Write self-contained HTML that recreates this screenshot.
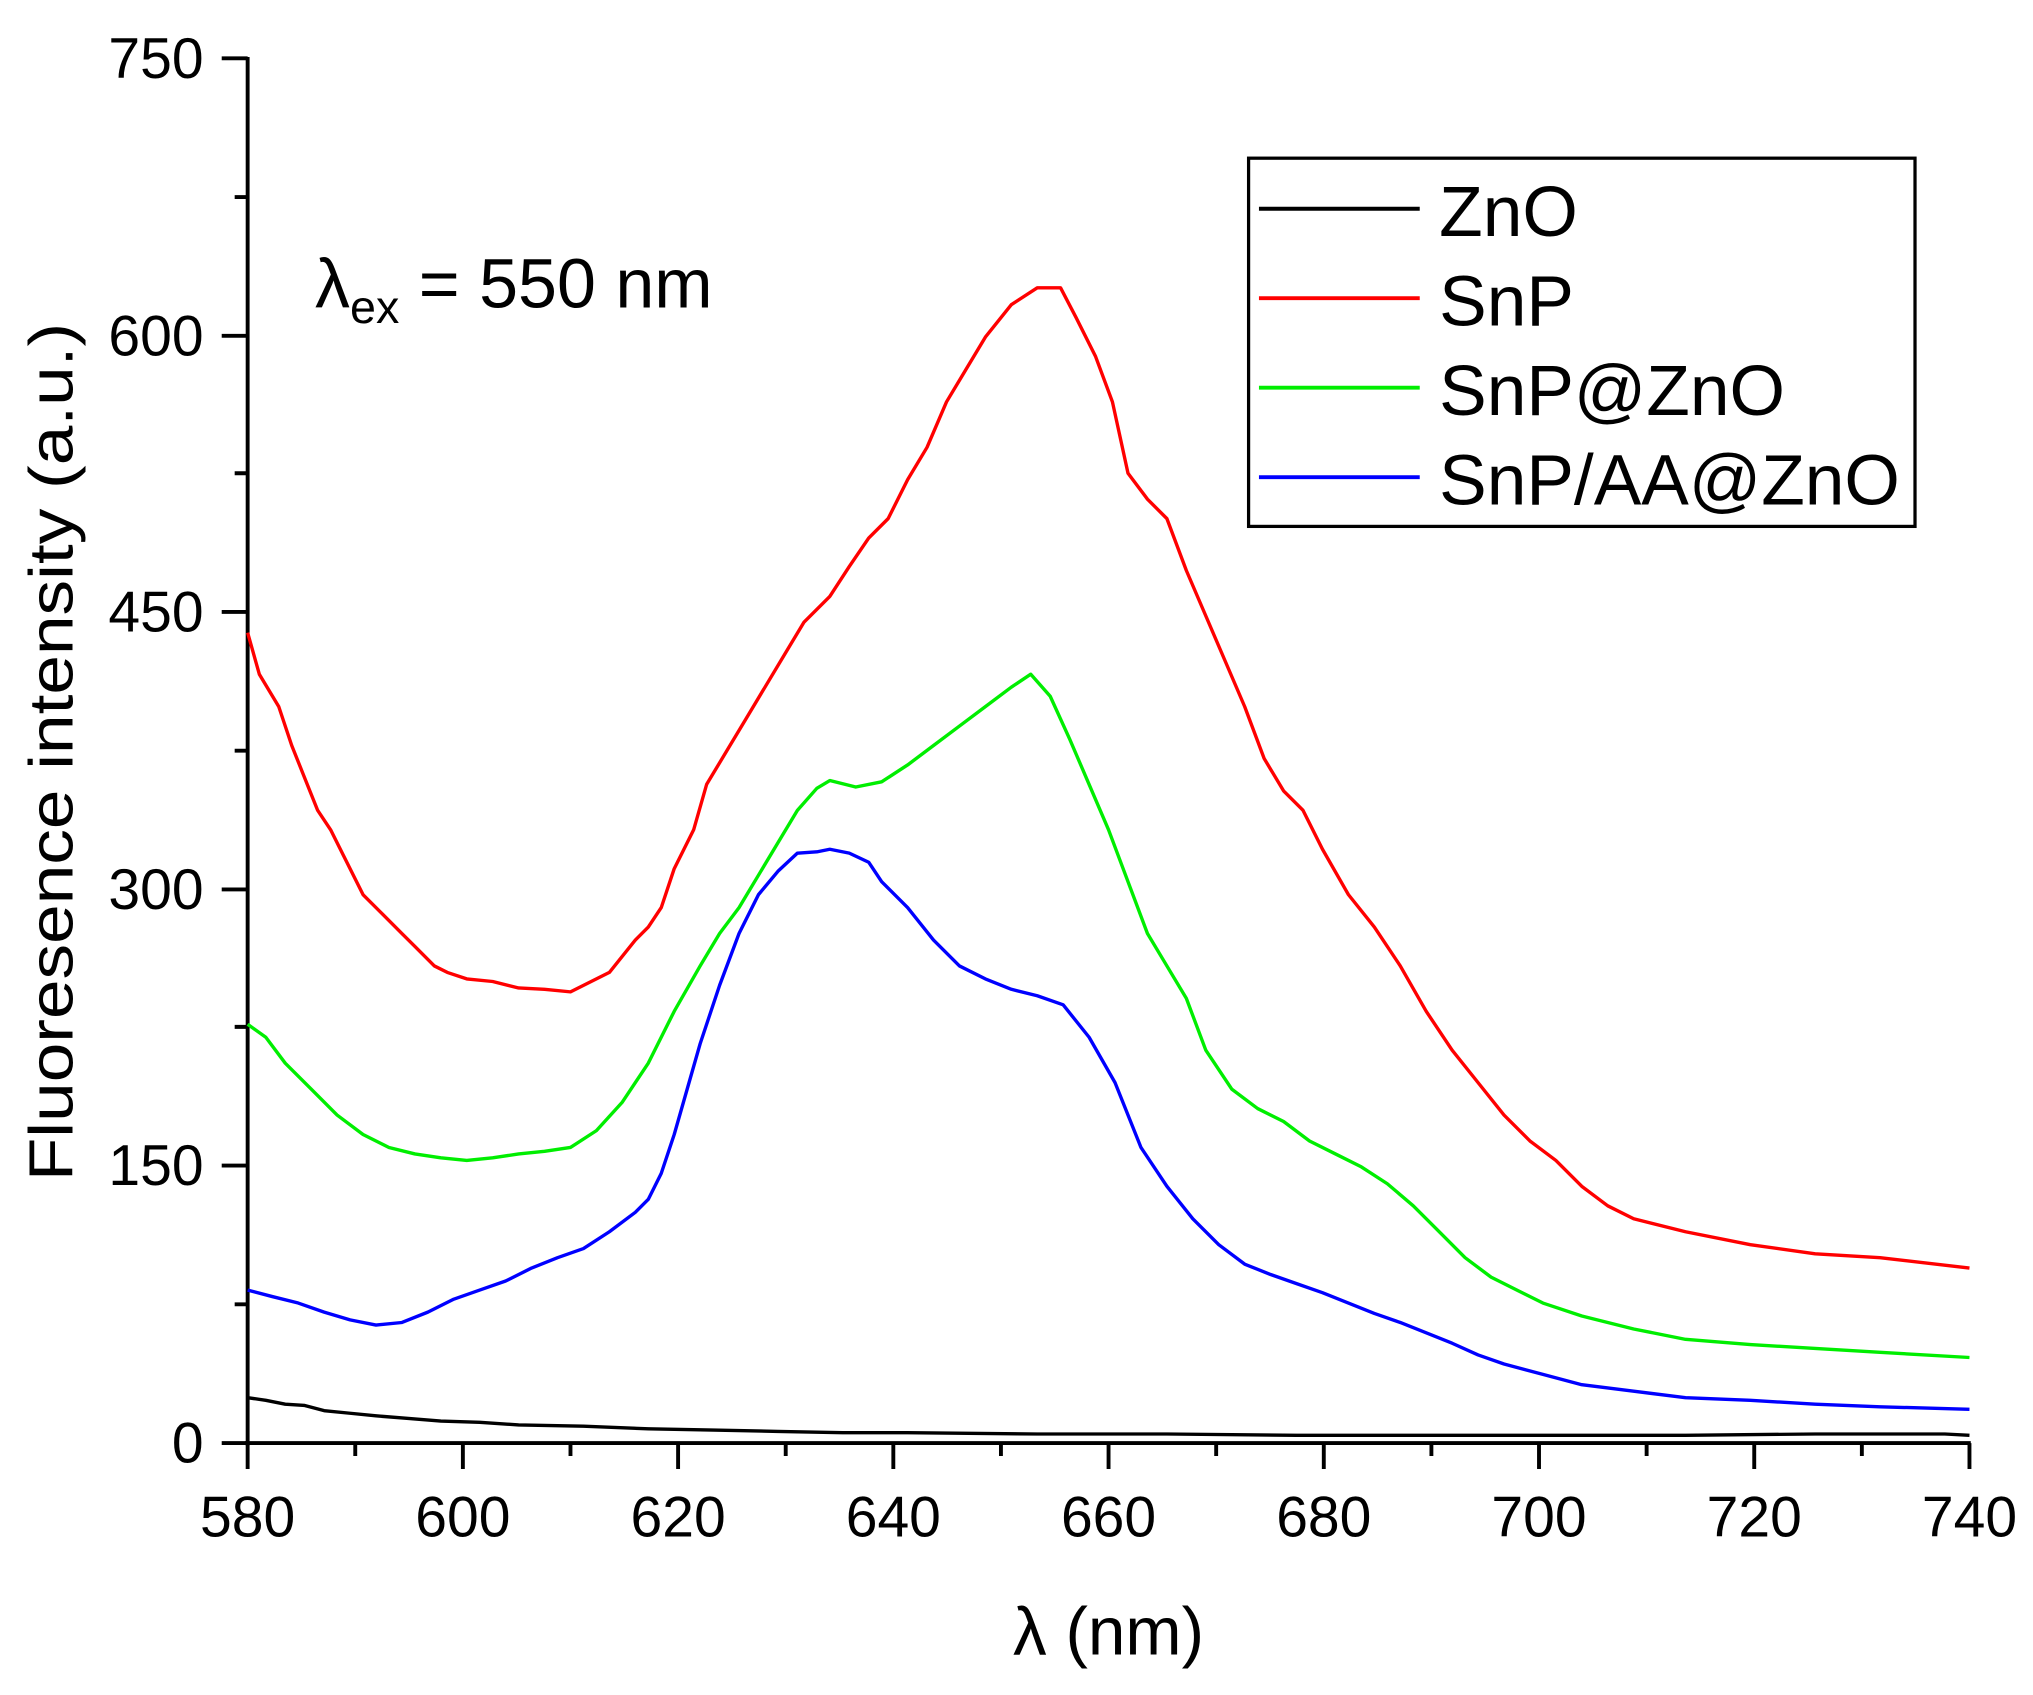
<!DOCTYPE html>
<html><head><meta charset="utf-8"><style>
html,body{margin:0;padding:0;background:#fff;}
svg{display:block;}
text{font-family:"Liberation Sans",Arial,sans-serif;fill:#000;}
</style></head><body>
<svg width="2033" height="1695" viewBox="0 0 1568 1307.3" preserveAspectRatio="none" xmlns="http://www.w3.org/2000/svg">
<g stroke="#000" stroke-width="3" fill="none">
<line x1="191" y1="44" x2="191" y2="1115"/>
<line x1="189" y1="1113" x2="1520" y2="1113"/>
<path d="M171 45H191M171 259H191M171 472H191M171 686H191M171 899H191M171 1113H191"/>
<path d="M181 152H191M181 365H191M181 579H191M181 792H191M181 1006H191"/>
<path d="M191 1113V1133M357 1113V1133M523 1113V1133M689 1113V1133M855 1113V1133M1021 1113V1133M1187 1113V1133M1353 1113V1133M1519 1113V1133"/>
<path d="M274 1113V1123M440 1113V1123M606 1113V1123M772 1113V1123M938 1113V1123M1104 1113V1123M1270 1113V1123M1436 1113V1123"/>
</g>
<g font-size="44" text-anchor="end">
<text x="157" y="60">750</text><text x="157" y="274">600</text><text x="157" y="487">450</text>
<text x="157" y="701">300</text><text x="157" y="914">150</text><text x="157" y="1128">0</text>
</g>
<g font-size="44" text-anchor="middle">
<text x="191" y="1185">580</text><text x="357" y="1185">600</text><text x="523" y="1185">620</text>
<text x="689" y="1185">640</text><text x="855" y="1185">660</text><text x="1021" y="1185">680</text>
<text x="1187" y="1185">700</text><text x="1353" y="1185">720</text><text x="1519" y="1185">740</text>
</g>
<text x="855" y="1276" font-size="52" text-anchor="middle">λ (nm)</text>
<text transform="translate(56,580) rotate(-90)" font-size="48" text-anchor="middle" textLength="662" lengthAdjust="spacingAndGlyphs">Fluoresence intensity (a.u.)</text>
<text x="243" y="237" font-size="54">λ<tspan font-size="36" dy="12">ex</tspan><tspan dy="-12"> = 550 nm</tspan></text>
<g fill="none" stroke-width="2.6" stroke-linejoin="round">
<polyline stroke="#000" points="191,1078 205,1080 220,1083 235,1084 250,1088 270,1090 290,1092 315,1094 340,1096 370,1097 400,1099 450,1100 500,1102 550,1103 600,1104 650,1105 700,1105 800,1106 900,1106 1000,1107 1100,1107 1200,1107 1300,1107 1400,1106 1500,1106 1519,1107"/>
<polyline stroke="#ff0000" points="191,488 200,520 215,545 225,575 235,600 245,625 255,640 265,660 280,690 295,705 310,720 320,730 335,745 345,750 360,755 380,757 400,762 420,763 440,765 450,760 470,750 490,725 500,715 510,700 520,670 535,640 545,605 560,580 575,555 590,530 605,505 620,480 640,460 655,437 670,415 685,400 700,370 715,345 730,310 745,285 760,260 780,235 800,222 818,222 830,245 845,275 858,310 870,365 885,385 900,400 915,440 930,475 945,510 960,545 975,585 990,610 1005,625 1020,655 1040,690 1060,715 1080,745 1100,780 1120,810 1140,835 1160,860 1180,880 1200,895 1220,915 1240,930 1260,940 1300,950 1350,960 1400,967 1450,970 1519,978"/>
<polyline stroke="#00ee00" points="191,790 205,800 220,820 240,840 260,860 280,875 300,885 320,890 340,893 360,895 380,893 400,890 420,888 440,885 460,872 480,850 500,820 520,780 540,745 555,720 570,700 585,675 600,650 615,625 630,608 640,602 660,607 680,603 700,590 720,575 740,560 760,545 780,530 795,520 810,537 825,570 840,605 855,640 870,680 885,720 900,745 915,770 930,810 950,840 970,855 990,865 1010,880 1030,890 1050,900 1070,913 1090,930 1110,950 1130,970 1150,985 1170,995 1190,1005 1220,1015 1260,1025 1300,1033 1350,1037 1400,1040 1450,1043 1519,1047"/>
<polyline stroke="#0000ff" points="191,995 210,1000 230,1005 250,1012 270,1018 290,1022 310,1020 330,1012 350,1002 370,995 390,988 410,978 430,970 450,963 470,950 490,935 500,925 510,905 520,875 530,840 540,805 555,760 570,720 585,690 600,672 615,658 630,657 640,655 655,658 670,665 680,680 700,700 720,725 740,745 760,755 780,763 800,768 820,775 840,800 860,835 880,885 900,915 920,940 940,960 960,975 980,983 1000,990 1020,997 1040,1005 1060,1013 1080,1020 1100,1028 1120,1036 1140,1045 1160,1052 1190,1060 1220,1068 1260,1073 1300,1078 1350,1080 1400,1083 1450,1085 1519,1087"/>
</g>
<rect x="963" y="122" width="514" height="284" fill="none" stroke="#000" stroke-width="2.5"/>
<g stroke-width="3">
<line x1="971" y1="161" x2="1095" y2="161" stroke="#000"/>
<line x1="971" y1="230" x2="1095" y2="230" stroke="#ff0000"/>
<line x1="971" y1="299" x2="1095" y2="299" stroke="#00ee00"/>
<line x1="971" y1="368" x2="1095" y2="368" stroke="#0000ff"/>
</g>
<g font-size="55">
<text x="1110" y="182">ZnO</text>
<text x="1110" y="251">SnP</text>
<text x="1110" y="320">SnP@ZnO</text>
<text x="1110" y="389">SnP/AA@ZnO</text>
</g>
</svg>
</body></html>
